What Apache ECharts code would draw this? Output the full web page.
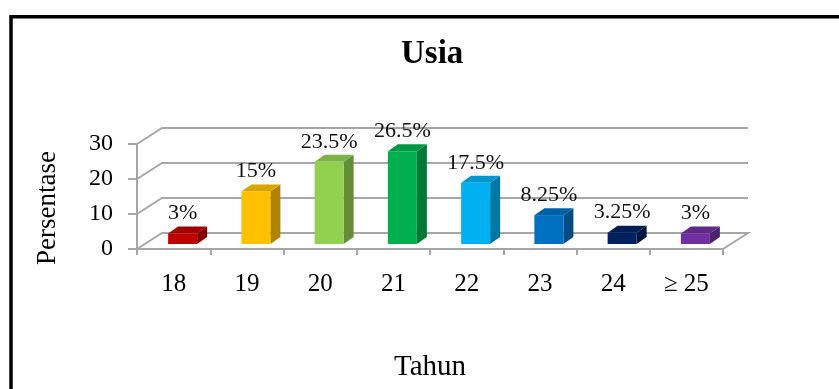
<!DOCTYPE html>
<html>
<head>
<meta charset="utf-8">
<script src="https://cdn.jsdelivr.net/npm/echarts@6/dist/echarts.min.js"></script>
<style>
html,body{margin:0;padding:0;background:#fff;}
#c{width:839px;height:389px;}
</style>
</head>
<body>
<div id="c"></div>
<script>
var categories = ['18', '19', '20', '21', '22', '23', '24', '\u2265 25'];
var values = [3, 15, 23.5, 26.5, 17.5, 8.25, 3.25, 3];
var barColors = ['#c00000', '#ffc000', '#92d050', '#00b050', '#00b0f0', '#0070c0', '#002060', '#7030a0'];
var yTicks = [0, 10, 20, 30];

var FONT = "'Liberation Serif', 'DejaVu Serif', serif";
var WALL_DX = 25, WALL_DY = -16;
var BAR_SX = 9, BAR_SY = -5, BAR_DX = 10, BAR_DY = -7, BAR_W = 29;
var GRID_COLOR = '#a6a6a6';

function shade(hex, f) {
  var n = parseInt(hex.slice(1), 16);
  var r = Math.round(((n >> 16) & 255) * f), g = Math.round(((n >> 8) & 255) * f), b = Math.round((n & 255) * f);
  return 'rgb(' + r + ',' + g + ',' + b + ')';
}

var chart = echarts.init(document.getElementById('c'));
chart.setOption({
  backgroundColor: '#fff',
  animation: false,
  title: {
    text: 'Usia', left: 396, top: 33,
    textStyle: { fontFamily: FONT, fontSize: 33, fontWeight: 'bold', color: '#000' }
  },
  graphic: [{
    type: 'rect', shape: { x: 11, y: 16.7, width: 1000, height: 600 },
    style: { fill: 'none', stroke: '#000', lineWidth: 3.5 }, z: 100
  }, {
    type: 'text', x: 48, y: 208, rotation: Math.PI / 2,
    style: {
      text: 'Persentase', align: 'center', verticalAlign: 'middle',
      font: '27px ' + FONT, fill: '#000'
    }
  }],
  grid: { left: 137, right: 116, top: 144, bottom: 140 },
  xAxis: {
    type: 'category', data: categories,
    name: 'Tahun', nameLocation: 'middle', nameGap: 104,
    nameTextStyle: { fontFamily: FONT, fontSize: 29, color: '#000' },
    axisLine: { show: true, lineStyle: { color: GRID_COLOR, width: 2 } },
    axisTick: { show: true, length: 6, lineStyle: { color: GRID_COLOR, width: 2 } },
    axisLabel: { margin: 23, fontFamily: FONT, fontSize: 25, color: '#000' }
  },
  yAxis: {
    type: 'value', min: 0, max: 30, interval: 10,
    axisLine: { show: true, lineStyle: { color: GRID_COLOR, width: 2 } },
    axisTick: { show: true, length: 9, lineStyle: { color: GRID_COLOR, width: 2 } },
    axisLabel: { margin: 24, fontFamily: FONT, fontSize: 24, color: '#000' },
    splitLine: { show: false }
  },
  series: [{
    type: 'custom', z: 1, silent: true,
    data: yTicks.map(function (v) { return [0, v]; }),
    encode: { x: 0, y: 1 },
    renderItem: function (params, api) {
      var cs = params.coordSys;
      var y = api.coord([0, api.value(1)])[1];
      var x0 = cs.x, x1 = cs.x + cs.width;
      var pts = [[x0, y], [x0 + WALL_DX, y + WALL_DY], [x1 + WALL_DX, y + WALL_DY]];
      if (api.value(1) === 0) pts.push([x1, y]);
      return {
        type: 'polyline', shape: { points: pts },
        style: { stroke: GRID_COLOR, lineWidth: 2, fill: null }
      };
    }
  }, {
    type: 'custom', z: 5, silent: true,
    data: values.map(function (v, i) { return [i, v]; }),
    encode: { x: 0, y: 1 },
    renderItem: function (params, api) {
      var i = api.value(0), v = api.value(1);
      var base = api.coord([i, 0]);
      var top = api.coord([i, v]);
      var cx = base[0] + BAR_SX;
      var yb = base[1] + BAR_SY;
      var yt = top[1] + BAR_SY;
      var xl = cx - BAR_W / 2, xr = cx + BAR_W / 2;
      var col = barColors[i];
      return {
        type: 'group',
        children: [{
          type: 'polygon',
          shape: { points: [[xr, yb], [xr + BAR_DX, yb + BAR_DY], [xr + BAR_DX, yt + BAR_DY], [xr, yt]] },
          style: { fill: shade(col, 0.68) }
        }, {
          type: 'polygon',
          shape: { points: [[xl, yt], [xr, yt], [xr + BAR_DX, yt + BAR_DY], [xl + BAR_DX, yt + BAR_DY]] },
          style: { fill: shade(col, 0.86) }
        }, {
          type: 'rect',
          shape: { x: xl, y: yt, width: BAR_W, height: yb - yt },
          style: { fill: col }
        }, {
          type: 'text',
          style: {
            text: v + '%', x: cx, y: yt + BAR_DY - 13,
            align: 'center', verticalAlign: 'middle',
            font: '22px ' + FONT, fill: '#111'
          }
        }]
      };
    }
  }]
});
</script>
</body>
</html>
